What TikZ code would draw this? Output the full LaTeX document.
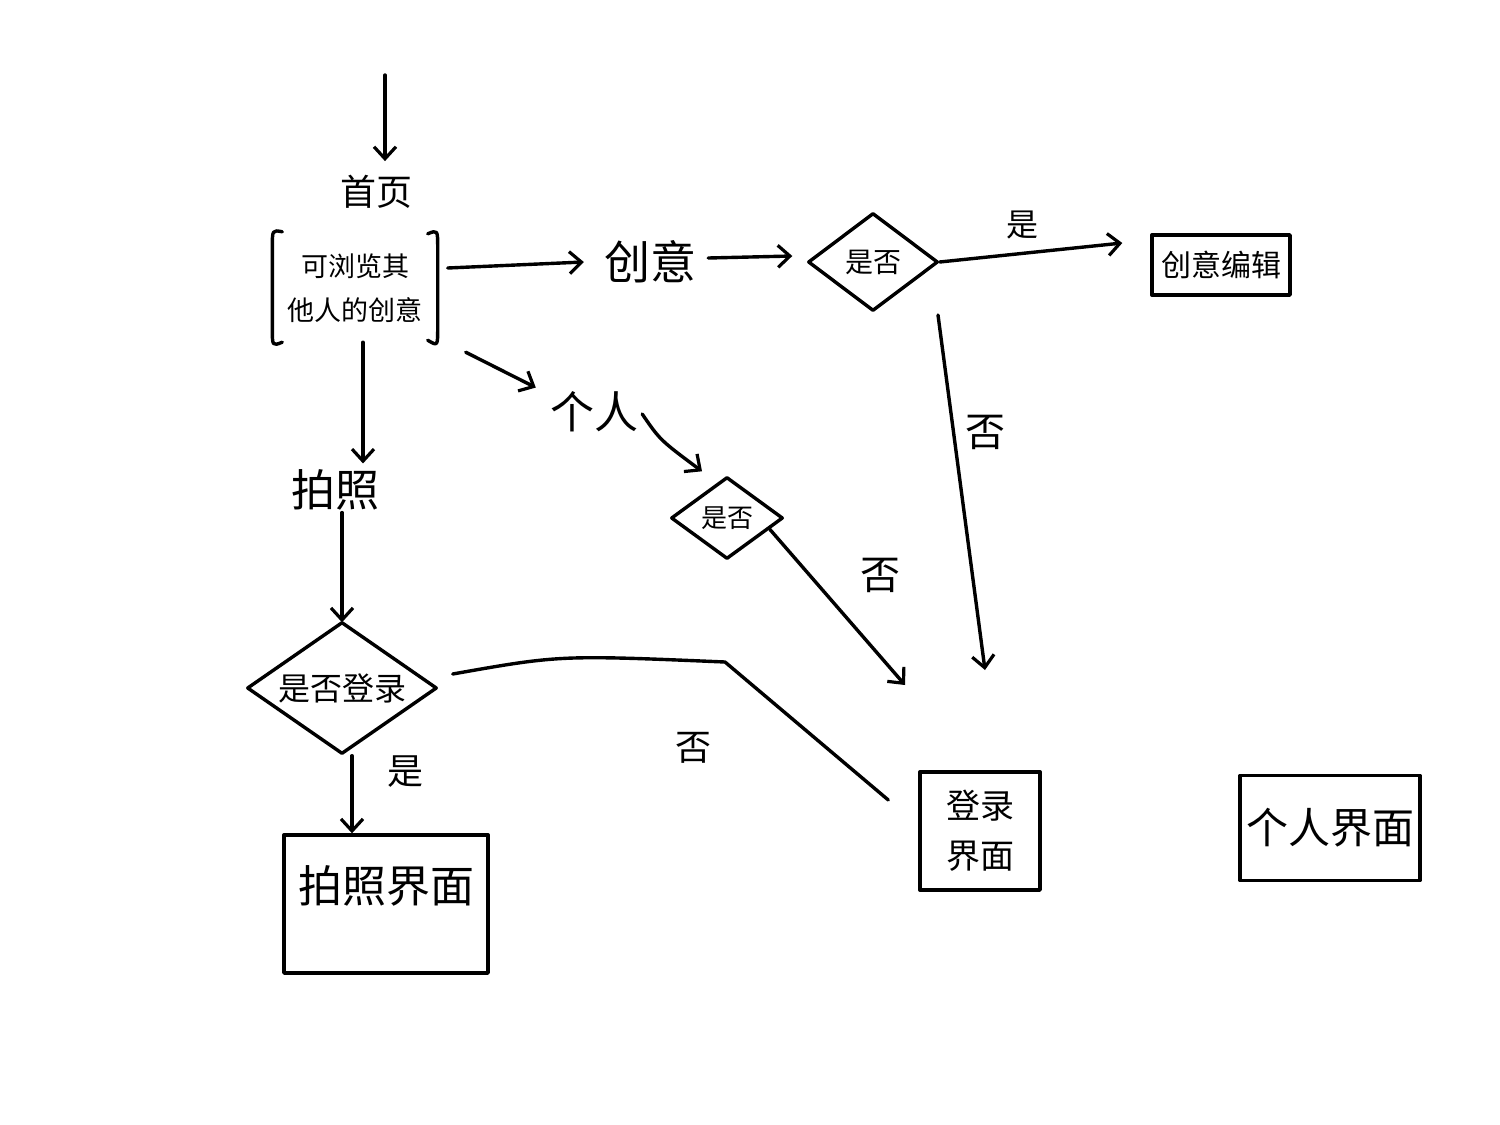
\documentclass[tikz,border=0pt]{standalone}
\usepackage{fontspec}
\newfontfamily\cjk{Noto Sans CJK SC}
\usetikzlibrary{arrows.meta,shapes.geometric}
\tikzset{
  ink/.style={line width=3.4pt, black, line cap=round, line join=round},
  arr/.style={ink, -{Straight Barb[length=12pt,width=22pt,line width=3.2pt]}},
  lbl/.style={font=\cjk, inner sep=2pt},
  dia/.style={ink, draw, diamond, aspect=1.4, inner sep=2pt, font=\cjk},
  screen/.style={ink, draw, rectangle, font=\cjk, align=center},
}
\begin{document}
\begin{tikzpicture}[x=1pt,y=-1pt]
\useasboundingbox (0,0) rectangle (1500,1125);
\fill[white] (0,0) rectangle (1500,1125);

% start
\coordinate (start) at (385,75);
\node[lbl, font=\cjk\fontsize{36}{40}\selectfont] (home) at (376,192) {首页};
\node[lbl, align=center, font=\cjk\fontsize{27}{44}\selectfont, minimum width=165pt, minimum height=120pt] (hb) at (355,288) {可浏览其\\他人的创意};
\draw[ink] ([xshift=10pt,yshift=-4pt]hb.north west) .. controls ([yshift=-2pt]hb.north west) .. ([yshift=-20pt]hb.north west) -- ([yshift=20pt]hb.south west) .. controls ([yshift=2pt]hb.south west) .. ([xshift=10pt,yshift=6pt]hb.south west);
\draw[ink] ([xshift=-10pt,yshift=-6pt]hb.north east) .. controls ([yshift=-2pt]hb.north east) .. ([yshift=-20pt]hb.north east) -- ([yshift=20pt]hb.south east) .. controls ([yshift=2pt]hb.south east) .. ([xshift=-10pt,yshift=8pt]hb.south east);
\draw[arr] (start) -- ([yshift=12pt]start |- home.north);

% creative branch
\node[lbl, font=\cjk\fontsize{46}{50}\selectfont, inner sep=20pt] (idea) at (650,262) {创意};
\draw[arr] ([xshift=10pt,yshift=20pt]hb.east) -- (idea.west);
\node[dia, font=\cjk\fontsize{28}{32}\selectfont, minimum width=130pt, minimum height=98pt] (d1) at (873,262) {是否};
\draw[arr] ([xshift=-8pt,yshift=4pt]idea.east) -- ([xshift=-14pt,yshift=6pt]d1.west);
\node[screen, font=\cjk\fontsize{30}{34}\selectfont, minimum width=138pt, minimum height=60pt, inner sep=2pt] (edit) at (1221,265) {创意编辑};
\draw[arr] (d1.east) -- ([xshift=-28pt,yshift=22pt]edit.west);
\node[lbl, font=\cjk\fontsize{32}{36}\selectfont] (yes1) at (1022,225) {是};

% login screen and its entries
\node[screen, font=\cjk\fontsize{34}{50}\selectfont, minimum width=120pt, minimum height=118pt] (login) at (980,831) {登录\\界面};
\coordinate (in1) at (905,685);
\coordinate (in2) at (985,670);
\coordinate (d1out) at (938,315);
\draw[arr] (d1out) -- (in2);
\node[lbl, font=\cjk\fontsize{40}{44}\selectfont] (no1) at (985,432) {否};

% personal branch
\node[lbl, font=\cjk\fontsize{44}{48}\selectfont] (person) at (594,412) {个人};
\draw[arr] ([xshift=28pt,yshift=-4pt]hb.south east) -- ([xshift=-12pt,yshift=2pt]person.north west);
\node[dia, font=\cjk\fontsize{26}{30}\selectfont, minimum width=112pt, minimum height=82pt] (d2) at (727,518) {是否};
\draw[arr] ([xshift=2pt,yshift=-2pt]person.east) .. controls (660,440) .. ([xshift=-25pt,yshift=4pt]d2.north);
\draw[arr] ([xshift=14pt,yshift=10pt]d2.south east) -- (in1);
\node[lbl, font=\cjk\fontsize{40}{44}\selectfont] (no2) at (880,575) {否};

% photo branch
\node[lbl, font=\cjk\fontsize{44}{48}\selectfont] (photo) at (335,490) {拍照};
\draw[arr] ([xshift=8pt,yshift=6pt]hb.south) -- ([xshift=28pt,yshift=4pt]photo.north);
\node[dia, font=\cjk\fontsize{32}{36}\selectfont, minimum width=190pt, minimum height=132pt, inner sep=0pt] (d3) at (342,688) {是否登录};
\draw[arr] (photo.south -| d3.north) -- ([yshift=-2pt]d3.north);
\node[screen, minimum width=204pt, minimum height=138pt] (photoscr) at (386,904) {};
\node[lbl, font=\cjk\fontsize{44}{48}\selectfont] (photot) at ([yshift=18pt]photoscr.center) {拍照界面};
\draw[arr] ([xshift=10pt]d3.south) -- ([xshift=10pt]d3.south |- photoscr.north);
\node[lbl, font=\cjk\fontsize{36}{40}\selectfont] (yes3) at (405,772) {是};
\coordinate (bend) at (725,662);
\draw[ink] ([xshift=14pt,yshift=14pt]d3.east) .. controls (560,655) .. (bend) -- ([xshift=-30pt,yshift=31pt]login.west);
\node[lbl, font=\cjk\fontsize{36}{40}\selectfont] (no3) at (693,748) {否};

% personal screen
\node[screen, font=\cjk\fontsize{42}{46}\selectfont, minimum width=180pt, minimum height=105pt] (pscr) at (1330,828) {个人界面};
\end{tikzpicture}
\end{document}
